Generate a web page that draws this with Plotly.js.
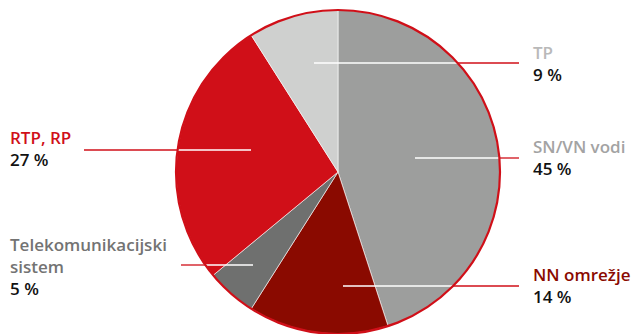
<!DOCTYPE html>
<html><head><meta charset="utf-8">
<script src="https://cdn.plot.ly/plotly-3.0.1.min.js"></script>
<style>html,body{margin:0;padding:0;background:#fff}</style>
</head><body><div id="c" style="width:634px;height:334px"></div>
<script>
const labels = ["SN/VN vodi", "NN omrežje", "Telekomunikacijski<br>sistem", "RTP, RP", "TP"];
const values = [45, 14, 5, 27, 9];
const sliceColors = ["#9d9e9d", "#8a0a00", "#6f706f", "#d00f18", "#cfd0cf"];
const labelColors = ["#a3a3a3", "#8a0a00", "#737373", "#d00f18", "#b9b9b9"];

// layout helpers (pixels)
const W = 634, H = 334;
const cx = 338, cy = 172, r = 162;
const px = x => x / W, py = y => 1 - y / H;
// label placement: [textX, block centre Y, leaderY, leaderStartX, leaderEndX]
const place = [
  [531, 157, 158, 415, 519],
  [531, 285, 286, 343, 519],
  [8, 266.5, 265, 253, 181],
  [8, 148.5, 150, 251, 84],
  [531, 63.5, 63, 314, 519]
];
const FONT = "Open Sans, sans-serif", FS = 17;

const annotations = [], shapes = [];
labels.forEach((lab, i) => {
  const p = place[i];
  annotations.push({
    xref: "paper", yref: "paper", x: px(p[0]), y: py(p[1]),
    xanchor: "left", yanchor: "middle", align: "left", showarrow: false,
    text: lab + '<br><span style="color:#111111">' + values[i] + ' %</span>',
    font: {family: FONT, size: FS, color: labelColors[i], weight: 600}
  });
  const dy = p[2] - cy;
  const dir = p[4] > p[3] ? 1 : -1;
  const edge = cx + dir * Math.sqrt(r * r - dy * dy);
  shapes.push({type: "line", xref: "paper", yref: "paper",
    x0: px(p[3]), x1: px(edge), y0: py(p[2]), y1: py(p[2]),
    line: {color: "#ffffff", width: 1.3}});
  shapes.push({type: "line", xref: "paper", yref: "paper",
    x0: px(edge), x1: px(p[4]), y0: py(p[2]), y1: py(p[2]),
    line: {color: "#d00f18", width: 1.3}});
});
shapes.push({type: "circle", xref: "paper", yref: "paper",
  x0: px(cx - r), x1: px(cx + r), y0: py(cy + r), y1: py(cy - r),
  line: {color: "#d00f18", width: 2.2}});

const data = [{
  type: "pie", labels: labels, values: values, sort: false,
  direction: "clockwise", rotation: 0,
  marker: {colors: sliceColors, line: {color: "#ffffff", width: 0.6}},
  textinfo: "none", hoverinfo: "none", showlegend: false,
  domain: {x: [px(cx - r), px(cx + r)], y: [py(cy + r), py(cy - r)]}
}];
const layout = {
  width: W, height: H, margin: {l: 0, r: 0, t: 0, b: 0},
  paper_bgcolor: "#fff", plot_bgcolor: "#fff",
  showlegend: false, annotations: annotations, shapes: shapes
};
Plotly.newPlot("c", data, layout, {displayModeBar: false, staticPlot: true});
</script></body></html>
